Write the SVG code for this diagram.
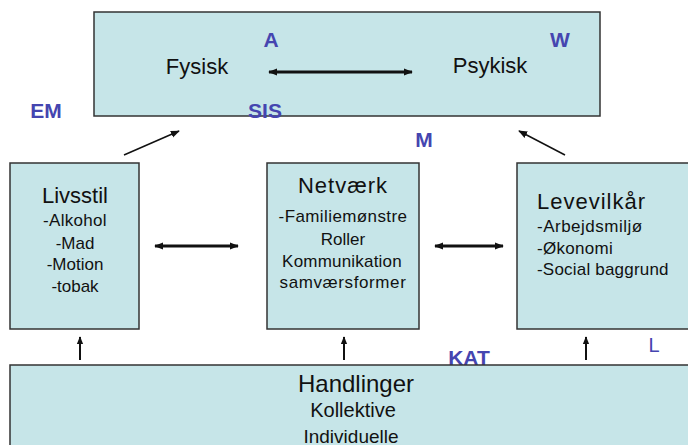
<svg xmlns="http://www.w3.org/2000/svg" width="688" height="445" viewBox="0 0 688 445">
<defs>
<style>
.box{fill:#C6E5E8;stroke:#333;stroke-width:1.5}
.t{font-family:"Liberation Sans",Arial,sans-serif;fill:#111}
.lbl{font-family:"Liberation Sans",Arial,sans-serif;font-weight:bold;font-size:21px;fill:#4545B0}
.dbl{stroke:#111;stroke-width:3;fill:none;marker-start:url(#hs);marker-end:url(#he)}
.ar{stroke:#111;stroke-width:1.5;fill:none;marker-end:url(#ha)}
.up{stroke:#111;stroke-width:2;fill:none;marker-end:url(#hu)}
</style>
<marker id="he" viewBox="0 0 10 10" refX="9" refY="5" markerWidth="3" markerHeight="3" orient="auto"><path d="M0,1 L10,5 L0,9 z" fill="#111"/></marker>
<marker id="hs" viewBox="0 0 10 10" refX="1" refY="5" markerWidth="3" markerHeight="3" orient="auto"><path d="M10,1 L0,5 L10,9 z" fill="#111"/></marker>
<marker id="ha" viewBox="0 0 10 10" refX="9" refY="5" markerWidth="6" markerHeight="6" orient="auto"><path d="M0,1 L10,5 L0,9 z" fill="#111"/></marker>
<marker id="hu" viewBox="0 0 10 10" refX="9" refY="5" markerWidth="4" markerHeight="4" orient="auto"><path d="M0,1 L10,5 L0,9 z" fill="#111"/></marker>
</defs>
<g id="top">
<rect class="box" x="94" y="12" width="506" height="104"/>
<text class="t" x="197" y="74" font-size="22" text-anchor="middle">Fysisk</text>
<text class="t" x="490" y="73" font-size="22" text-anchor="middle">Psykisk</text>
</g>
<g id="livsstil">
<rect class="box" x="10" y="163" width="129" height="166"/>
<text class="t" x="75" y="203" font-size="22" text-anchor="middle">Livsstil</text>
<text class="t" x="75" y="226" font-size="17" text-anchor="middle" letter-spacing="0.3">-Alkohol</text>
<text class="t" x="75" y="249" font-size="17" text-anchor="middle">-Mad</text>
<text class="t" x="75" y="270" font-size="17" text-anchor="middle">-Motion</text>
<text class="t" x="75" y="292" font-size="17" text-anchor="middle">-tobak</text>
</g>
<g id="netvaerk">
<rect class="box" x="267" y="163" width="152" height="166"/>
<text class="t" x="343" y="193" font-size="22" text-anchor="middle" letter-spacing="1">Netværk</text>
<text class="t" x="343" y="222" font-size="17" text-anchor="middle" letter-spacing="0.4">-Familiemønstre</text>
<text class="t" x="343" y="245" font-size="17" text-anchor="middle">Roller</text>
<text class="t" x="342" y="267" font-size="17" text-anchor="middle" letter-spacing="0.2">Kommunikation</text>
<text class="t" x="343" y="288" font-size="17" text-anchor="middle" letter-spacing="0.6">samværsformer</text>
</g>
<g id="levevilkaar">
<rect class="box" x="517" y="163" width="180" height="166"/>
<text class="t" x="537" y="209" font-size="22" letter-spacing="1">Levevilkår</text>
<text class="t" x="537" y="232" font-size="17" letter-spacing="0.5">-Arbejdsmiljø</text>
<text class="t" x="537" y="254" font-size="17" letter-spacing="0.3">-Økonomi</text>
<text class="t" x="537" y="275" font-size="17" letter-spacing="0.2">-Social baggrund</text>
</g>
<text class="lbl" x="469" y="365" text-anchor="middle">KAT</text>
<g id="handlinger">
<rect class="box" x="10" y="365" width="690" height="90"/>
<text class="t" x="356" y="392" font-size="24" text-anchor="middle">Handlinger</text>
<text class="t" x="353" y="417" font-size="20" text-anchor="middle">Kollektive</text>
<text class="t" x="351" y="443" font-size="19" text-anchor="middle">Individuelle</text>
</g>
<g id="labels">
<text class="lbl" x="271" y="47" text-anchor="middle" font-size="20">A</text>
<text class="lbl" x="560" y="47" text-anchor="middle">W</text>
<text class="lbl" x="46" y="118" text-anchor="middle">EM</text>
<text class="lbl" x="265" y="118" text-anchor="middle">SIS</text>
<text class="lbl" x="424" y="147" text-anchor="middle" font-size="20">M</text>
<text x="654" y="352" font-family="Liberation Sans,Arial,sans-serif" font-size="20" fill="#4545B0" text-anchor="middle">L</text>
</g>
<g id="connectors">
<line class="dbl" x1="269" y1="72" x2="412" y2="72"/>
<line class="dbl" x1="155" y1="246" x2="238" y2="246"/>
<line class="dbl" x1="435" y1="246" x2="503" y2="246"/>
<line class="ar" x1="124" y1="155" x2="179" y2="131"/>
<line class="ar" x1="565" y1="155" x2="519" y2="131"/>
<line class="up" x1="80" y1="360" x2="80" y2="337"/>
<line class="up" x1="344" y1="360" x2="344" y2="337"/>
<line class="up" x1="586" y1="360" x2="586" y2="337"/>
</g>
</svg>
